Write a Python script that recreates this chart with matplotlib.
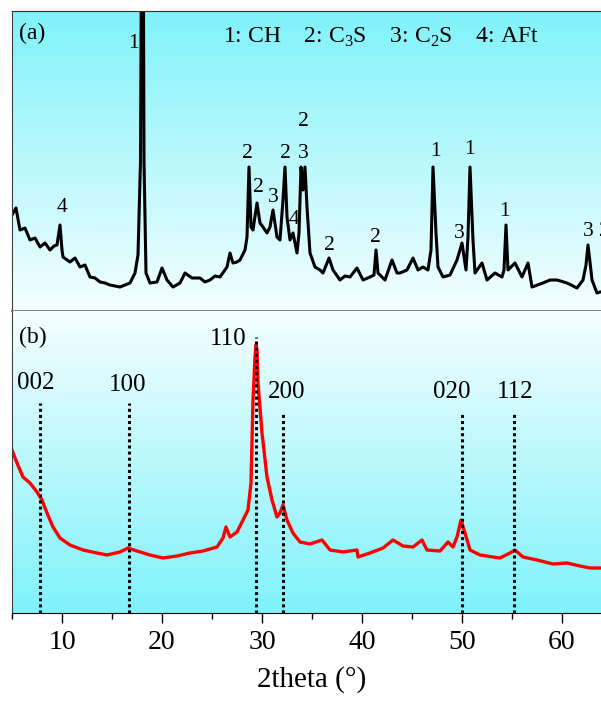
import numpy as np
import matplotlib
matplotlib.use("Agg")
import matplotlib.pyplot as plt

plt.rcParams['font.family'] = ['Liberation Serif', 'DejaVu Serif']
plt.rcParams['mathtext.fontset'] = 'custom'
plt.rcParams['mathtext.rm'] = 'Liberation Serif'

# (a) cement paste XRD (a.u.)
tth_a = [5.0, 5.4, 5.8, 6.3, 6.8, 7.3, 7.8, 8.3, 8.8, 9.2, 9.5, 9.8, 10.0, 10.1,
         10.8, 11.3, 11.8, 12.3, 12.8, 13.3, 13.8, 14.3, 14.8, 15.3, 15.8, 16.3,
         16.8, 17.3, 17.6, 17.85, 18.05, 18.2, 18.4, 18.8, 19.5, 20.0, 20.5, 21.1,
         21.8, 22.3, 23.0, 23.8, 24.3, 24.8, 25.3, 25.8, 26.5, 26.8, 27.1, 27.5,
         27.8, 28.3, 28.5, 28.7, 28.9, 29.1, 29.5, 29.8, 30.1, 30.5, 30.8, 31.1,
         31.5, 31.8, 32.1, 32.3, 32.5, 32.8, 33.1, 33.5, 33.7, 33.9, 34.1, 34.3,
         34.5, 34.8, 35.3, 35.8, 36.1, 36.7, 37.1, 37.8, 38.3, 38.8, 39.5, 40.1,
         40.8, 41.2, 41.4, 41.6, 42.3, 43.0, 43.5, 43.8, 44.5, 45.1, 45.6, 46.1,
         46.6, 46.9, 47.1, 47.4, 47.6, 48.1, 48.8, 49.5, 50.0, 50.4, 50.6, 50.8,
         51.1, 51.3, 52.0, 52.5, 53.3, 54.0, 54.2, 54.4, 54.6, 55.3, 56.0, 56.6,
         57.0, 58.1, 58.8, 59.5, 60.5, 61.5, 62.1, 62.4, 62.6, 62.8, 63.0, 63.5,
         63.8, 65.0]
int_a = [96, 103, 81, 83, 71, 73, 64, 68, 61, 65, 66, 86, 61, 54,
         49, 53, 44, 46, 34, 33, 29, 28, 26, 25, 24, 26,
         28, 38, 56, 150, 600, 150, 38, 28, 29, 43, 31, 24,
         28, 38, 33, 33, 29, 31, 35, 34, 44, 58, 48, 49,
         51, 61, 74, 144, 84, 81, 108, 88, 84, 78, 84, 101,
         74, 71, 111, 144, 94, 71, 78, 58, 78, 144, 121, 144,
         104, 58, 44, 41, 38, 53, 41, 31, 35, 34, 43, 31,
         34, 36, 61, 38, 31, 51, 38, 38, 41, 53, 41, 44,
         41, 61, 144, 78, 44, 34, 36, 51, 68, 41, 74, 144,
         71, 38, 48, 31, 38, 34, 41, 86, 41, 48, 34, 48,
         24, 28, 31, 31, 28, 23, 31, 46, 66, 49, 31, 18,
         19, 20]

# (b) C-S-H XRD
tth_b = [5.0, 5.5, 6.1, 6.8, 7.5, 8.0, 8.5, 9.1, 9.8, 10.8, 12.1, 13.5, 14.5,
         15.8, 16.6, 17.5, 18.8, 20.1, 21.5, 22.8, 24.1, 25.5, 26.1, 26.4, 26.8,
         27.5, 28.1, 28.6, 28.9, 29.1, 29.3, 29.4, 29.5, 29.6, 30.0, 30.5, 31.0,
         31.5, 31.8, 32.1, 32.5, 33.1, 33.8, 34.8, 36.0, 36.8, 38.1, 39.5, 39.6,
         40.8, 42.1, 43.1, 44.1, 45.1, 46.0, 46.5, 47.8, 48.6, 49.1, 49.5, 49.9,
         50.3, 50.8, 51.8, 53.1, 53.8, 54.8, 55.3, 56.1, 57.5, 59.1, 60.5, 61.8,
         62.8, 63.8, 65.0]
int_b = [163, 150, 136, 130, 121, 113, 100, 86, 75, 68, 63, 60, 58,
         61, 65, 62, 58, 55, 57, 60, 62, 66, 75, 86, 76,
         81, 93, 103, 130, 213, 256, 268, 263, 230, 180, 136, 113,
         96, 100, 108, 93, 80, 71, 69, 73, 63, 61, 63, 56,
         60, 65, 73, 67, 66, 73, 63, 62, 71, 66, 76, 93,
         80, 63, 58, 56, 55, 60, 63, 56, 53, 49, 50, 47,
         45, 45, 44]

# phase labels for (a): text, 2theta, height
peak_txt = ['1', '4', '2', '2', '3', '2', '2', '3', '4', '2', '2', '1', '1', '3', '1', '3', '2']
peak_x = [17.1, 10.0, 28.5, 29.6, 31.1, 32.3, 34.1, 34.1, 33.2, 36.7, 41.3, 47.3, 50.7, 49.7, 54.2, 62.6, 64.2]
peak_y = [268, 103, 158, 123, 113, 158, 189, 158, 91, 66, 73, 159, 161, 78, 99, 79, 79]

# reflections marked in (b)
hkl = ['002', '100', '110', '200', '020', '112']
hkl_pos = [7.8, 16.7, 29.4, 32.1, 50.0, 55.2]
hkl_top = [210, 210, 276, 200, 200, 200]
hkl_tx = [7.4, 16.6, 26.6, 32.5, 49.0, 55.3]
hkl_ty = [230, 228, 274, 221, 221, 221]

cyan = np.array([0.50, 0.95, 0.98])
pale = np.array([0.96, 0.995, 1.0])


def gradient(ax, top, bottom):
    t = np.linspace(0, 1, 256)[:, None]
    img = top[None, :] * (1 - t[..., None]) + bottom[None, :] * t[..., None]
    ax.imshow(img, extent=[0, 1, 0, 1], transform=ax.transAxes,
              aspect='auto', zorder=0, interpolation='bilinear')


fig = plt.figure(figsize=(6.01, 7.09), dpi=100)
W, H = 601, 709
ax1 = fig.add_axes([12 / W, (H - 311) / H, 600 / W, 300 / H])
ax2 = fig.add_axes([12 / W, (H - 613) / H, 600 / W, 302 / H])

gradient(ax1, cyan, pale)
gradient(ax2, pale, cyan)

ax1.plot(tth_a, int_a, color='black', lw=2.2, zorder=2)
ax2.plot(tth_b, int_b, color='red', lw=2.4, zorder=2)

for t, x, y in zip(peak_txt, peak_x, peak_y):
    ax1.text(x, y, t, fontsize=15.5, ha='center', va='center', zorder=3)

ax1.text(26.1, 274, r'1: CH    2: C$_\mathrm{3}$S    3: C$_\mathrm{2}$S    4: AFt',
         fontsize=17, ha='left', va='center')
ax1.text(0.011, 0.925, '(a)', transform=ax1.transAxes, fontsize=17, va='center')
ax2.text(0.011, 0.914, '(b)', transform=ax2.transAxes, fontsize=17, va='center')

for pos, top, lab, tx, ty in zip(hkl_pos, hkl_top, hkl, hkl_tx, hkl_ty):
    ax2.plot([pos, pos], [0, top], color='black', lw=2.2,
             linestyle=(0, (1, 1)), zorder=3)
    ax2.text(tx, ty, lab, fontsize=18, ha='center', va='center')

for ax in (ax1, ax2):
    ax.set_xlim(5, 65)
    ax.set_yticks([])
    ax.spines['right'].set_visible(False)
    ax.spines['left'].set_color('#404040')
ax1.set_ylim(0, 300)
ax2.set_ylim(0, 302)

ax1.set_xticks([])
ax1.spines['top'].set_color('#303030')
ax1.spines['bottom'].set_color('#808080')
ax1.spines['bottom'].set_linewidth(1.4)
ax2.spines['top'].set_visible(False)

ax2.set_xticks([10, 20, 30, 40, 50, 60])
ax2.set_xticks([5, 15, 25, 35, 45, 55, 65], minor=True)
ax2.tick_params(axis='x', which='major', direction='out', length=7.2, width=1.0,
                labelsize=20, pad=5)
ax2.tick_params(axis='x', which='minor', direction='out', length=4.3, width=1.0)
ax2.set_xlabel('2theta (°)', fontsize=21, labelpad=8)

fig.savefig('out.png', dpi=100)
